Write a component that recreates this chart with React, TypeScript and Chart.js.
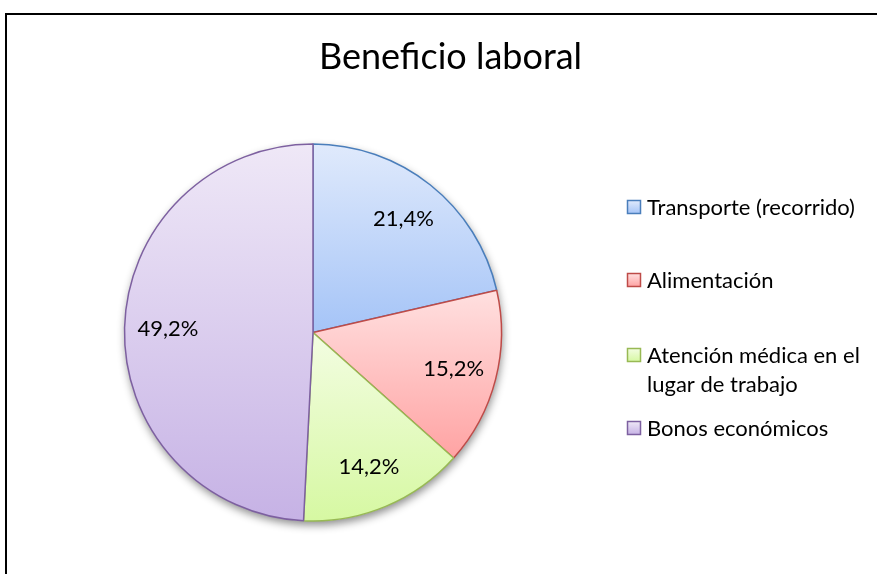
import React, { useEffect, useRef } from "react";
import { Chart, registerables } from "chart.js";

Chart.register(...registerables);

const TITLE = "Beneficio laboral";
const categories = [
  "Transporte (recorrido)",
  "Alimentación",
  "Atención médica en el lugar de trabajo",
  "Bonos económicos",
];
const values = [21.4, 15.2, 14.2, 49.2];

const topColors = ["#e0eafc", "#ffe0e0", "#f3fde2", "#efe8f7"];
const bottomColors = ["#a5c4f7", "#ffa3a3", "#d6f8a2", "#c6b2e5"];
const borderColors = ["#4a7ebb", "#be4b48", "#98b954", "#7d60a0"];

const FONT = "Lato, 'Open Sans', sans-serif";

function sliceYRange(i: number, cy: number, r: number): [number, number] {
  const total = values.reduce((a, b) => a + b, 0);
  let start = 0;
  for (let k = 0; k < i; k++) start += values[k];
  const a0 = (start / total) * 2 * Math.PI;
  const a1 = ((start + values[i]) / total) * 2 * Math.PI;
  const ys = [cy, cy - r * Math.cos(a0), cy - r * Math.cos(a1)];
  if (a0 <= 0.0001) ys.push(cy - r);
  if (a0 <= Math.PI && a1 >= Math.PI) ys.push(cy + r);
  return [Math.min(...ys), Math.max(...ys)];
}

const extrasPlugin = {
  id: "extras",
  beforeDatasetsDraw(chart: any) {
    const meta = chart.getDatasetMeta(0);
    const arc = meta.data[0];
    if (!arc) return;
    const { x, y, outerRadius } = arc.getProps(["x", "y", "outerRadius"], true);
    const ctx = chart.ctx;
    ctx.save();
    ctx.shadowColor = "rgba(0,0,0,0.45)";
    ctx.shadowBlur = 9;
    ctx.shadowOffsetY = 4;
    ctx.shadowOffsetX = 1;
    ctx.beginPath();
    ctx.arc(x, y, outerRadius, 0, Math.PI * 2);
    ctx.fillStyle = "#ffffff";
    ctx.fill();
    ctx.restore();
  },
  afterDatasetsDraw(chart: any) {
    const ctx = chart.ctx;
    const meta = chart.getDatasetMeta(0);
    ctx.save();
    // data labels
    ctx.font = `22px ${FONT}`;
    ctx.fillStyle = "#000";
    ctx.textAlign = "center";
    ctx.textBaseline = "middle";
    meta.data.forEach((el: any, i: number) => {
      const { x, y, startAngle, endAngle, outerRadius } = el.getProps(
        ["x", "y", "startAngle", "endAngle", "outerRadius"],
        true
      );
      const mid = (startAngle + endAngle) / 2;
      const d = outerRadius * 0.77;
      const label = values[i].toFixed(1).replace(".", ",") + "%";
      ctx.fillText(label, x + Math.cos(mid) * d, y + Math.sin(mid) * d);
    });

    // title
    ctx.font = `36px ${FONT}`;
    ctx.textBaseline = "alphabetic";
    ctx.textAlign = "center";
    ctx.fillText(TITLE, 450.5, 69);

    // legend
    const legendY = [207, 280, 355, 428];
    const boxX = 627.5;
    const textX = 647;
    const lineH = 29;
    const maxW = 232;
    ctx.font = `22px ${FONT}`;
    ctx.textAlign = "left";
    ctx.textBaseline = "middle";
    categories.forEach((cat, i) => {
      const words = cat.split(" ");
      const lines: string[] = [];
      let cur = "";
      words.forEach((w) => {
        const t = cur ? cur + " " + w : w;
        if (ctx.measureText(t).width > maxW && cur) {
          lines.push(cur);
          cur = w;
        } else cur = t;
      });
      if (cur) lines.push(cur);
      const y0 = legendY[i];
      const g = ctx.createLinearGradient(0, y0 - 6.5, 0, y0 + 6.5);
      g.addColorStop(0, topColors[i]);
      g.addColorStop(1, bottomColors[i]);
      ctx.fillStyle = g;
      ctx.fillRect(boxX, y0 - 6.5, 13, 13);
      ctx.strokeStyle = borderColors[i];
      ctx.lineWidth = 1.5;
      ctx.strokeRect(boxX, y0 - 6.5, 13, 13);
      ctx.fillStyle = "#000";
      lines.forEach((ln, k) => ctx.fillText(ln, textX, y0 + k * lineH + 1));
    });
    ctx.restore();
  },
};

export default function App() {
  const ref = useRef<HTMLCanvasElement | null>(null);
  useEffect(() => {
    if (!ref.current) return;
    const chart = new Chart(ref.current, {
      type: "pie",
      data: {
        labels: categories,
        datasets: [
          {
            data: values,
            borderColor: borderColors,
            borderWidth: 1.5,
            backgroundColor: (c: any) => {
              const ch = c.chart;
              const area = ch.chartArea;
              if (!area) return topColors[c.dataIndex];
              const cx = (area.left + area.right) / 2;
              const cy = (area.top + area.bottom) / 2;
              const r = Math.min(area.right - area.left, area.bottom - area.top) / 2;
              const [y0, y1] = sliceYRange(c.dataIndex, cy, r);
              const g = ch.ctx.createLinearGradient(cx, y0, cx, y1);
              g.addColorStop(0, topColors[c.dataIndex]);
              g.addColorStop(1, bottomColors[c.dataIndex]);
              return g;
            },
          },
        ],
      },
      options: {
        responsive: false,
        animation: false,
        layout: {
          padding: { left: 123.75, right: 374.75, top: 143.25, bottom: 52.25 },
        },
        plugins: {
          legend: { display: false },
          title: { display: false },
          tooltip: { enabled: false },
        },
      },
      plugins: [extrasPlugin],
    });
    return () => chart.destroy();
  }, []);

  return (
    <div
      style={{
        position: "fixed",
        left: 0,
        top: 0,
        width: 877,
        height: 574,
        overflow: "hidden",
        background: "#fff",
      }}
    >
      <div
        style={{
          position: "absolute",
          left: 5,
          top: 13,
          width: 900,
          height: 600,
          border: "2px solid #000",
          boxSizing: "border-box",
        }}
      />
      <canvas
        ref={ref}
        width={877}
        height={574}
        style={{ position: "absolute", left: 0, top: 0, display: "block", width: 877, height: 574 }}
      />
    </div>
  );
}
